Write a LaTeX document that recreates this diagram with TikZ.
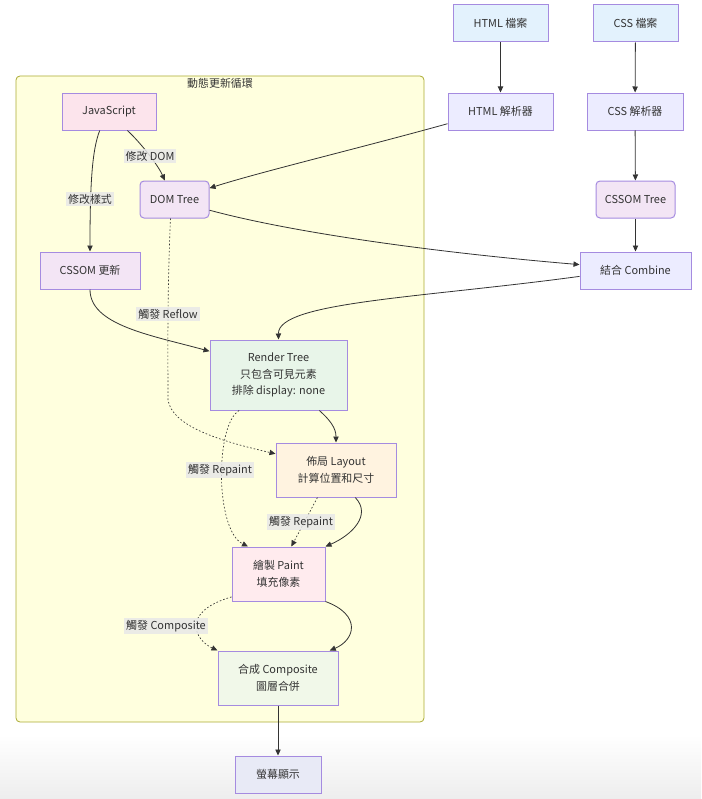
\documentclass[tikz,border=0pt]{standalone}
\usepackage{fontspec}
\setmainfont{Noto Sans CJK TC}
\usetikzlibrary{arrows.meta}
\definecolor{ink}{HTML}{333333}
\definecolor{boxline}{HTML}{A58BE0}
\definecolor{filebg}{HTML}{E3F2FD}
\definecolor{parserbg}{HTML}{ECECFF}
\definecolor{treebg}{HTML}{F3E5F5}
\definecolor{jsbg}{HTML}{FCE4EC}
\definecolor{renderbg}{HTML}{E8F5E9}
\definecolor{layoutbg}{HTML}{FFF3E0}
\definecolor{paintbg}{HTML}{FFEBEE}
\definecolor{compbg}{HTML}{F1F8E9}
\definecolor{screenbg}{HTML}{E8EAF6}
\definecolor{loopbg}{HTML}{FFFFDE}
\definecolor{loopline}{HTML}{AAAA33}
\definecolor{labelbg}{HTML}{E8E8E8}
\tikzset{
  box/.style={draw=boxline, line width=0.75pt, inner sep=0pt, text=ink, align=center,
    font=\fontsize{8.2}{12.5}\selectfont},
  rbox/.style={box, rounded corners=3pt},
  link/.style={draw=ink, line width=0.6pt, -{Triangle[length=4.5pt,width=4pt]}},
  dotlink/.style={link, line width=0.5pt, dash pattern=on 1.2pt off 1.5pt},
  elabel/.style={fill=labelbg, fill opacity=0.85, text opacity=1, inner sep=1.5pt, text=ink,
    font=\fontsize{8.2}{10}\selectfont}
}
\begin{document}
\begin{tikzpicture}[x=0.75pt,y=-0.75pt]
\useasboundingbox (0,0) rectangle (701,799);
\shade[top color=white,bottom color=black!7] (0,735) rectangle (701,799);
\draw[draw=loopline, fill=loopbg, line width=0.6pt, rounded corners=3pt] (16,76) rectangle (424,722);
\node[text=ink, font=\fontsize{8.2}{10}\selectfont] (looptitle) at (220,83) {動態更新循環};

\node[box, fill=filebg, minimum width=71.25pt, minimum height=27.75pt] (htmlfile) at (500.5,23.5) {HTML 檔案};
\node[box, fill=filebg, minimum width=63.75pt, minimum height=27.75pt] (cssfile) at (635.5,23.5) {CSS 檔案};
\node[box, fill=parserbg, minimum width=78.75pt, minimum height=27.75pt] (htmlparser) at (500.5,111.5) {HTML 解析器};
\node[box, fill=parserbg, minimum width=72pt, minimum height=27.75pt] (cssparser) at (635,111.5) {CSS 解析器};
\node[rbox, fill=treebg, minimum width=59.25pt, minimum height=27.75pt] (cssomtree) at (635.5,199.5) {CSSOM Tree};
\node[box, fill=parserbg, minimum width=83.25pt, minimum height=27.75pt] (combine) at (635.5,270.5) {結合 Combine};

\node[box, fill=jsbg, minimum width=70.5pt, minimum height=27.75pt] (js) at (109,111.5) {JavaScript};
\node[rbox, fill=treebg, minimum width=51.75pt, minimum height=27.75pt] (domtree) at (174.5,199.5) {DOM Tree};
\node[box, fill=treebg, minimum width=75pt, minimum height=27.75pt] (cssomup) at (90,270.5) {CSSOM 更新};
\node[box, fill=renderbg, minimum width=102.75pt, minimum height=52.5pt] (render) at (278.5,375) {Render Tree\\只包含可見元素\\排除 display: none};
\node[box, fill=layoutbg, minimum width=90pt, minimum height=40.5pt] (layout) at (336,470) {佈局 Layout\\計算位置和尺寸};
\node[box, fill=paintbg, minimum width=69.75pt, minimum height=40.5pt] (paint) at (278.5,574) {繪製 Paint\\填充像素};
\node[box, fill=compbg, minimum width=90pt, minimum height=40.5pt] (composite) at (278,678) {合成 Composite\\圖層合併};
\node[box, fill=screenbg, minimum width=64.5pt, minimum height=27.75pt] (screen) at (278,774.5) {螢幕顯示};

\draw[link] (htmlfile) -- (htmlparser);
\draw[link] (cssfile) -- (cssparser);
\draw[link] (cssparser) -- (cssomtree);
\draw[link] (cssomtree) -- (combine);
\draw[link] (htmlparser.193) .. controls (360,148) and (260,172) .. (domtree.18);
\draw[link] (domtree.-17) .. controls (290,232) and (430,252) .. (combine.174);
\draw[link] (combine.186) .. controls (420,298) and (278,302) .. (render.north);
\draw[link] (js.-46) .. controls (140,142) and (158,165) .. (domtree.117);
\draw[link] (js.-116) .. controls (92,150) and (90,185) .. (cssomup.north);
\draw[link] (cssomup.south) .. controls (90,325) and (150,335) .. (render.161);
\draw[dotlink] (domtree.-102) .. controls (167,300) and (168,360) .. (168,400)
  .. controls (172,425) and (215,440) .. (layout.165);
\draw[link] (render.-41.5) .. controls (330,420) and (336,428) .. (layout.north);
\draw[dotlink] (render.-138) .. controls (215,425) and (215,530) .. (paint.138);
\draw[dotlink] (layout.-124) -- (paint.65);
\draw[link] (layout.-55) .. controls (372,515) and (352,535) .. (paint.north east);
\draw[dotlink] (paint.206) .. controls (180,612) and (195,640) .. (composite.north west);
\draw[link] (paint.south east) .. controls (362,615) and (355,640) .. (composite.28);
\draw[link] (composite) -- (screen);

\node[elabel] (lbdom) at (150,156) {修改 DOM};
\node[elabel] (lbstyle) at (90,199) {修改樣式};
\node[elabel] (lbreflow) at (168,314) {觸發 Reflow};
\node[elabel] (lbrepaintA) at (220,470) {觸發 Repaint};
\node[elabel] (lbrepaintB) at (301,522) {觸發 Repaint};
\node[elabel] (lbcomp) at (166,626) {觸發 Composite};
\end{tikzpicture}
\end{document}
